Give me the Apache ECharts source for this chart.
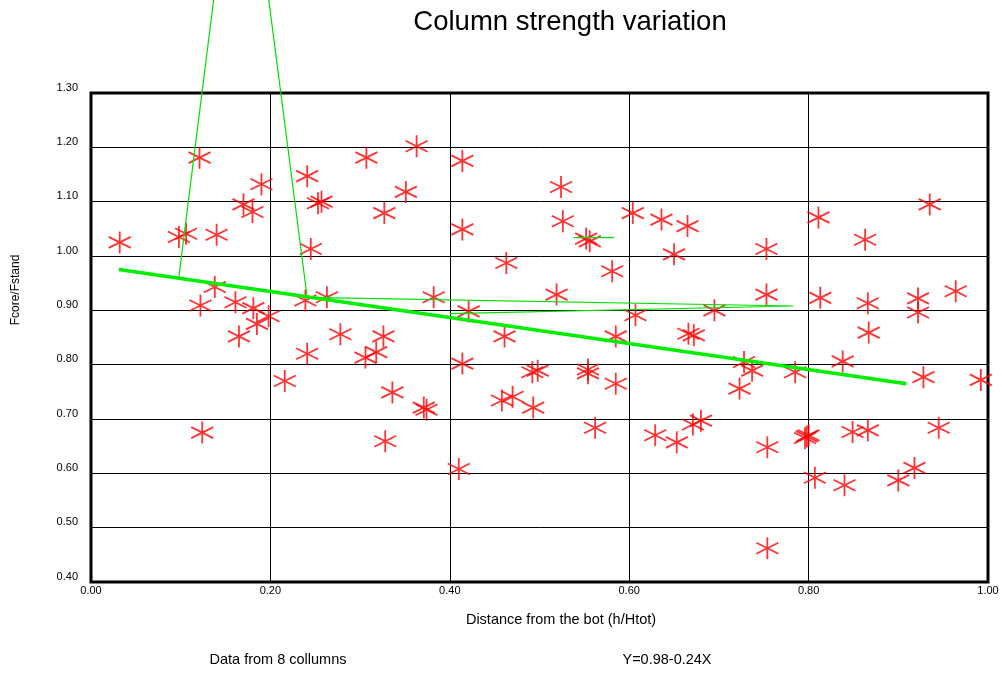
<!DOCTYPE html>
<html>
<head>
<meta charset="utf-8">
<script src="https://cdn.jsdelivr.net/npm/echarts@6/dist/echarts.min.js"></script>
<style>
html,body{margin:0;padding:0;background:#fff;}
#chart{width:1002px;height:673px;}
</style>
</head>
<body>
<div id="chart"></div>
<script>
// Measured points (h/Htot, Fcore/Fstand)
var pointX = [
 0.032,0.098,0.106,0.121,0.140,0.170,0.180,0.190,0.241,0.245,
 0.138,0.122,0.161,0.181,0.239,0.198,0.185,0.165,0.241,0.216,0.124,
 0.307,0.363,0.414,0.253,0.257,0.351,0.327,0.414,0.463,0.263,0.382,0.421,
 0.278,0.326,0.306,0.318,0.414,0.461,0.336,0.371,0.374,0.328,0.410,0.458,0.470,
 0.524,0.526,0.552,0.556,0.604,0.636,0.665,0.650,0.581,0.519,0.607,0.695,
 0.585,0.666,0.672,0.492,0.498,0.554,0.554,0.585,0.493,0.562,0.629,0.653,0.671,0.680,0.728,0.723,
 0.811,0.935,0.863,0.753,0.753,0.813,0.866,0.922,0.922,0.964,
 0.867,0.737,0.785,0.838,0.928,0.992,0.798,0.796,0.800,0.754,0.849,0.866,0.945,0.807,0.840,0.900,0.918,0.754
];
var pointY = [
 1.025,1.035,1.041,1.181,1.039,1.095,1.081,1.132,1.147,1.013,
 0.943,0.909,0.915,0.904,0.918,0.889,0.875,0.852,0.820,0.770,0.675,
 1.181,1.202,1.175,1.097,1.100,1.118,1.079,1.049,0.987,0.924,0.924,0.898,
 0.856,0.852,0.813,0.823,0.802,0.852,0.749,0.721,0.717,0.659,0.608,0.734,0.741,
 1.127,1.064,1.032,1.027,1.079,1.067,1.055,1.003,0.972,0.929,0.891,0.900,
 0.852,0.857,0.854,0.786,0.789,0.791,0.784,0.765,0.721,0.684,0.670,0.657,0.690,0.697,0.805,0.756,
 1.071,1.095,1.030,1.013,0.929,0.923,0.913,0.922,0.896,0.935,
 0.859,0.789,0.786,0.806,0.777,0.772,0.668,0.665,0.670,0.648,0.676,0.679,0.684,0.592,0.578,0.587,0.610,0.462
];
// Regression line Y = 0.98 - 0.24X (end points)
var fitX = [0.031, 0.909];
var fitY = [0.975, 0.765];
// Thin green polyline (null = break)
var thinX = [0.098, 0.167, 0.241, 0.783, 0.400, null, 0.538, 0.583];
var thinY = [0.962, 1.870, 0.924, 0.908, 0.894, null, 1.034, 1.034];
var xTicks = [0, 0.2, 0.4, 0.6, 0.8, 1.0];
var yTicks = [0.4, 0.5, 0.6, 0.7, 0.8, 0.9, 1.0, 1.1, 1.2, 1.3];

function zip(a, b) {
  return a.map(function (v, i) { return v === null ? [null, null] : [v, b[i]]; });
}
var FONT = '"Liberation Sans", Arial, sans-serif';
var star = 'path://M0,-2L0,2M-2,-1L2,1M-2,1L2,-1';

var chart = echarts.init(document.getElementById('chart'), null, {renderer: 'canvas'});
chart.setOption({
  backgroundColor: '#fff',
  animation: false,
  grid: {left: 91, top: 93, width: 897, height: 489, show: true, borderColor: '#000', borderWidth: 3, backgroundColor: 'transparent'},
  xAxis: {
    type: 'value', min: xTicks[0], max: xTicks[xTicks.length - 1], interval: 0.2,
    axisLine: {show: false},
    axisTick: {show: false},
    splitLine: {show: true, lineStyle: {color: '#000', width: 1}},
    axisLabel: {fontFamily: FONT, fontSize: 11, color: '#000', margin: 3, formatter: function (v) { return v.toFixed(2); }}
  },
  yAxis: {
    type: 'value', min: yTicks[0], max: yTicks[yTicks.length - 1], interval: 0.1,
    axisLine: {show: false},
    axisTick: {show: false},
    splitLine: {show: true, lineStyle: {color: '#000', width: 1}},
    axisLabel: {fontFamily: FONT, fontSize: 11, color: '#000', margin: 13, verticalAlign: 'bottom', formatter: function (v) { return v.toFixed(2); }}
  },
  series: [
    {
      type: 'scatter', data: zip(pointX, pointY), symbol: star, symbolSize: [22, 22],
      itemStyle: {color: 'rgba(0,0,0,0)', borderColor: '#ff0000', borderWidth: 1.8}, z: 2
    },
    {
      type: 'line', data: zip(fitX, fitY), showSymbol: false, symbol: 'none',
      lineStyle: {color: '#00ee00', width: 3.5}, z: 3
    },
    {
      type: 'line', data: zip(thinX, thinY), showSymbol: false, symbol: 'none', clip: false, connectNulls: false,
      lineStyle: {color: '#00e000', width: 1.2}, z: 3
    }
  ],
  graphic: [
    {type: 'text', style: {text: 'Column strength variation', font: '27.5px ' + FONT, fill: '#000', x: 570, y: 8, textAlign: 'center'}},
    {type: 'text', style: {text: 'Distance from the bot (h/Htot)', font: '14.5px ' + FONT, fill: '#000', x: 561, y: 612, textAlign: 'center'}},
    {type: 'text', style: {text: 'Data from 8 collumns', font: '14.5px ' + FONT, fill: '#000', x: 278, y: 652, textAlign: 'center'}},
    {type: 'text', style: {text: 'Y=0.98-0.24X', font: '14.5px ' + FONT, fill: '#000', x: 667, y: 652, textAlign: 'center'}},
    {type: 'text', x: 16, y: 290, rotation: Math.PI / 2, style: {text: 'Fcore/Fstand', font: '12px ' + FONT, fill: '#000', textAlign: 'center', textVerticalAlign: 'middle'}}
  ]
});
</script>
</body>
</html>
